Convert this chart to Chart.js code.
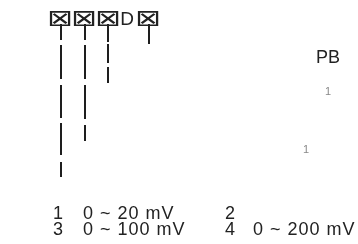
<!DOCTYPE html>
<html>
<head>
<meta charset="utf-8">
<script src="https://cdn.jsdelivr.net/npm/chart.js@4"></script>
<style>
  html, body { margin: 0; padding: 0; background: #fff; }
  canvas { display: block; }
</style>
</head>
<body>
<canvas id="codeChart" width="358" height="244"></canvas>
<script>
// Data
const codeChars = ["⊠", "⊠", "⊠", "D", "⊠"];
const leaderX = [61, 85, 108, 149];
const leaderSegments = [
  [[24, 40], [45, 79], [85, 118], [123, 155], [162, 177]],
  [[24, 40], [45, 79], [85, 119], [125, 141]],
  [[24, 42], [44, 63], [67, 83]],
  [[24, 44]],
];
const sideLabel = "PB";
const noteMarks = ["1", "1"];
const rangeCodes = ["1", "2", "3", "4"];
const rangeLabels = ["0 ~ 20 mV", "", "0 ~ 100 mV", "0 ~ 200 mV"];

// one dataset per leader segment
const datasets = [];
leaderX.forEach(function (x, i) {
  leaderSegments[i].forEach(function (seg) {
    datasets.push({
      data: [{ x: x, y: seg[0] }, { x: x, y: seg[1] }],
      showLine: true,
      borderColor: "#1e1e1e",
      borderWidth: 2,
      pointRadius: 0,
      borderCapStyle: "butt",
    });
  });
});

const textPlugin = {
  id: "codeText",
  afterDraw(chart) {
    const ctx = chart.ctx;
    const sx = chart.scales.x, sy = chart.scales.y;
    ctx.save();
    ctx.textBaseline = "alphabetic";
    ctx.textAlign = "center";

    // model code, centred on each leader
    const codePos = [60, 84, 108, 127, 148];
    codeChars.forEach(function (c, i) {
      ctx.fillStyle = "#222";
      if (c === "D") {
        ctx.font = "19px 'Liberation Sans'";
        ctx.fillText(c, sx.getPixelForValue(codePos[i]), sy.getPixelForValue(25));
      } else {
        // box glyph, a little squashed like the reference
        ctx.save();
        ctx.font = "31px 'DejaVu Sans'";
        ctx.translate(sx.getPixelForValue(codePos[i]), sy.getPixelForValue(26));
        ctx.scale(1, 0.76);
        ctx.fillText(c, 0, 0);
        ctx.restore();
      }
    });

    ctx.textAlign = "left";
    // side label + small notes
    ctx.fillStyle = "#222";
    ctx.font = "18px 'Liberation Sans'";
    ctx.fillText(sideLabel, sx.getPixelForValue(316), sy.getPixelForValue(63));
    ctx.fillStyle = "#888";
    ctx.font = "11px 'Liberation Sans'";
    ctx.fillText(noteMarks[0], sx.getPixelForValue(325), sy.getPixelForValue(95));
    ctx.fillText(noteMarks[1], sx.getPixelForValue(303), sy.getPixelForValue(153));

    // range table
    ctx.fillStyle = "#222";
    ctx.font = "18px 'Liberation Sans'";
    ctx.letterSpacing = "1px";
    const colCode = [53, 225], colLabel = [83, 253], rowBase = [219, 235];
    rangeCodes.forEach(function (code, i) {
      const r = Math.floor(i / 2), c = i % 2;
      ctx.fillText(code, sx.getPixelForValue(colCode[c]), sy.getPixelForValue(rowBase[r]));
      if (rangeLabels[i]) {
        ctx.fillText(rangeLabels[i], sx.getPixelForValue(colLabel[c]), sy.getPixelForValue(rowBase[r]));
      }
    });
    ctx.restore();
  },
};

const codeChart = new Chart(document.getElementById("codeChart"), {
  type: "scatter",
  data: { datasets: datasets },
  options: {
    responsive: false,
    animation: false,
    devicePixelRatio: 1,
    layout: { padding: 0 },
    plugins: { legend: { display: false }, tooltip: { enabled: false } },
    scales: {
      x: { display: false, min: 0, max: 358 },
      y: { display: false, min: 0, max: 244, reverse: true },
    },
  },
  plugins: [textPlugin],
});
</script>
</body>
</html>
